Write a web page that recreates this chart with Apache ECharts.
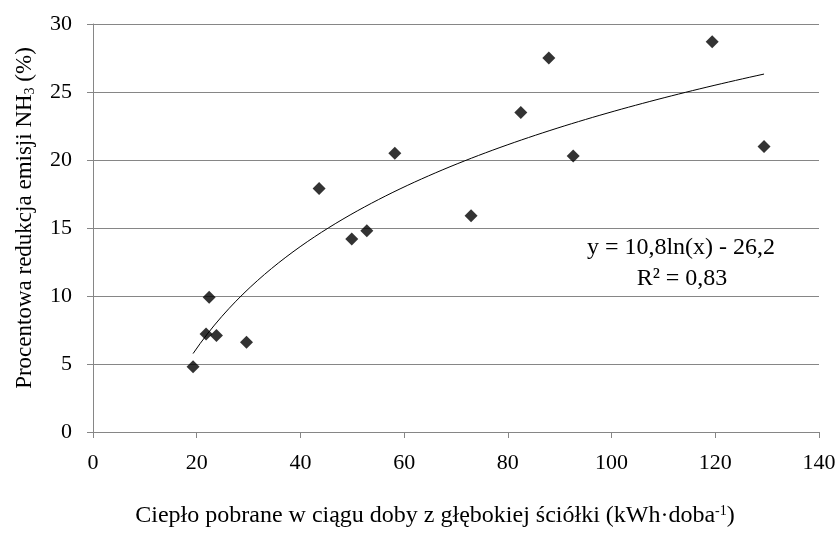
<!DOCTYPE html>
<html>
<head>
<meta charset="utf-8">
<script src="https://cdn.jsdelivr.net/npm/echarts@6/dist/echarts.min.js"></script>
<style>html,body{margin:0;padding:0;background:#fff}#c{width:840px;height:533px}</style>
</head>
<body>
<div id="c"></div>
<script>
// Data
const heatX = [19.3, 21.8, 22.4, 23.8, 29.6, 43.6, 49.9, 52.8, 58.2, 72.9, 82.5, 87.9, 92.6, 119.4, 129.4];
const reductionY = [4.8, 7.2, 9.9, 7.1, 6.6, 17.9, 14.2, 14.8, 20.5, 15.9, 23.5, 27.5, 20.3, 28.7, 21.0];
const xTicks = [0, 20, 40, 60, 80, 100, 120, 140];
const yTicks = [0, 5, 10, 15, 20, 25, 30];
// Trendline coefficients shown on the chart: y = 10,8 ln(x) - 26,2
const trendA = 10.8;
const trendB = -26.2;
const trendLabel = ['y = 10,8ln(x) - 26,2', 'R² = 0,83'];

const points = heatX.map((x, i) => [x, reductionY[i]]);
const xMin = Math.min(...heatX), xMax = Math.max(...heatX);
const trend = [];
const steps = 80;
for (let i = 0; i <= steps; i++) {
  const x = xMin + (xMax - xMin) * i / steps;
  trend.push([x, trendA * Math.log(x) + trendB]);
}

const font = 'Liberation Serif';
const lineColor = '#868686';
const chart = echarts.init(document.getElementById('c'));
chart.setOption({
  animation: false,
  backgroundColor: '#fff',
  grid: { left: 93, right: 21, top: 24, bottom: 99, containLabel: false },
  xAxis: {
    type: 'value', min: xTicks[0], max: xTicks[xTicks.length - 1], interval: xTicks[1] - xTicks[0],
    axisLine: { show: true, onZero: false, lineStyle: { color: lineColor, width: 1 } },
    axisTick: { show: true, length: 6, lineStyle: { color: lineColor } },
    splitLine: { show: false },
    axisLabel: { color: '#000', fontFamily: font, fontSize: 22, margin: 20 },
    name: 'Ciepło pobrane w ciągu doby z głębokiej ściółki (kWh·doba{sup|-1})',
    nameLocation: 'middle', nameGap: 72,
    nameTextStyle: {
      color: '#000', fontFamily: font, fontSize: 24, padding: [0, 42, 0, 0],
      rich: { sup: { fontFamily: font, fontSize: 14, verticalAlign: 'top', padding: [0, 0, 10, 0], color: '#000' } }
    }
  },
  yAxis: {
    type: 'value', min: yTicks[0], max: yTicks[yTicks.length - 1], interval: yTicks[1] - yTicks[0],
    axisLine: { show: true, lineStyle: { color: lineColor, width: 1 } },
    axisTick: { show: true, length: 6, lineStyle: { color: lineColor } },
    splitLine: { show: true, lineStyle: { color: lineColor, width: 1 } },
    axisLabel: { color: '#000', fontFamily: font, fontSize: 22, margin: 21 },
    name: 'Procentowa redukcja emisji NH{sub|3} (%)',
    nameLocation: 'middle', nameGap: 56,
    nameTextStyle: {
      color: '#000', fontFamily: font, fontSize: 23, padding: [0, 0, 0, 20],
      rich: { sub: { fontFamily: font, fontSize: 14, verticalAlign: 'bottom', padding: [10, 0, 0, 0], color: '#000' } }
    }
  },
  series: [
    {
      type: 'line', data: trend, showSymbol: false, symbol: 'none', smooth: false,
      lineStyle: { color: '#000', width: 1 }, z: 2, silent: true
    },
    {
      type: 'scatter', data: points, symbol: 'diamond', symbolSize: 13,
      itemStyle: { color: '#000' }, z: 3
    }
  ],
  graphic: [
    { type: 'text', x: 681, y: 248, style: { text: trendLabel[0], fontFamily: font, fontSize: 24, fill: '#000', align: 'center', verticalAlign: 'middle', textAlign: 'center', textVerticalAlign: 'middle' } },
    { type: 'text', x: 682, y: 279, style: { text: trendLabel[1], fontFamily: font, fontSize: 24, fill: '#000', align: 'center', verticalAlign: 'middle', textAlign: 'center', textVerticalAlign: 'middle' } }
  ]
});
</script>
</body>
</html>
